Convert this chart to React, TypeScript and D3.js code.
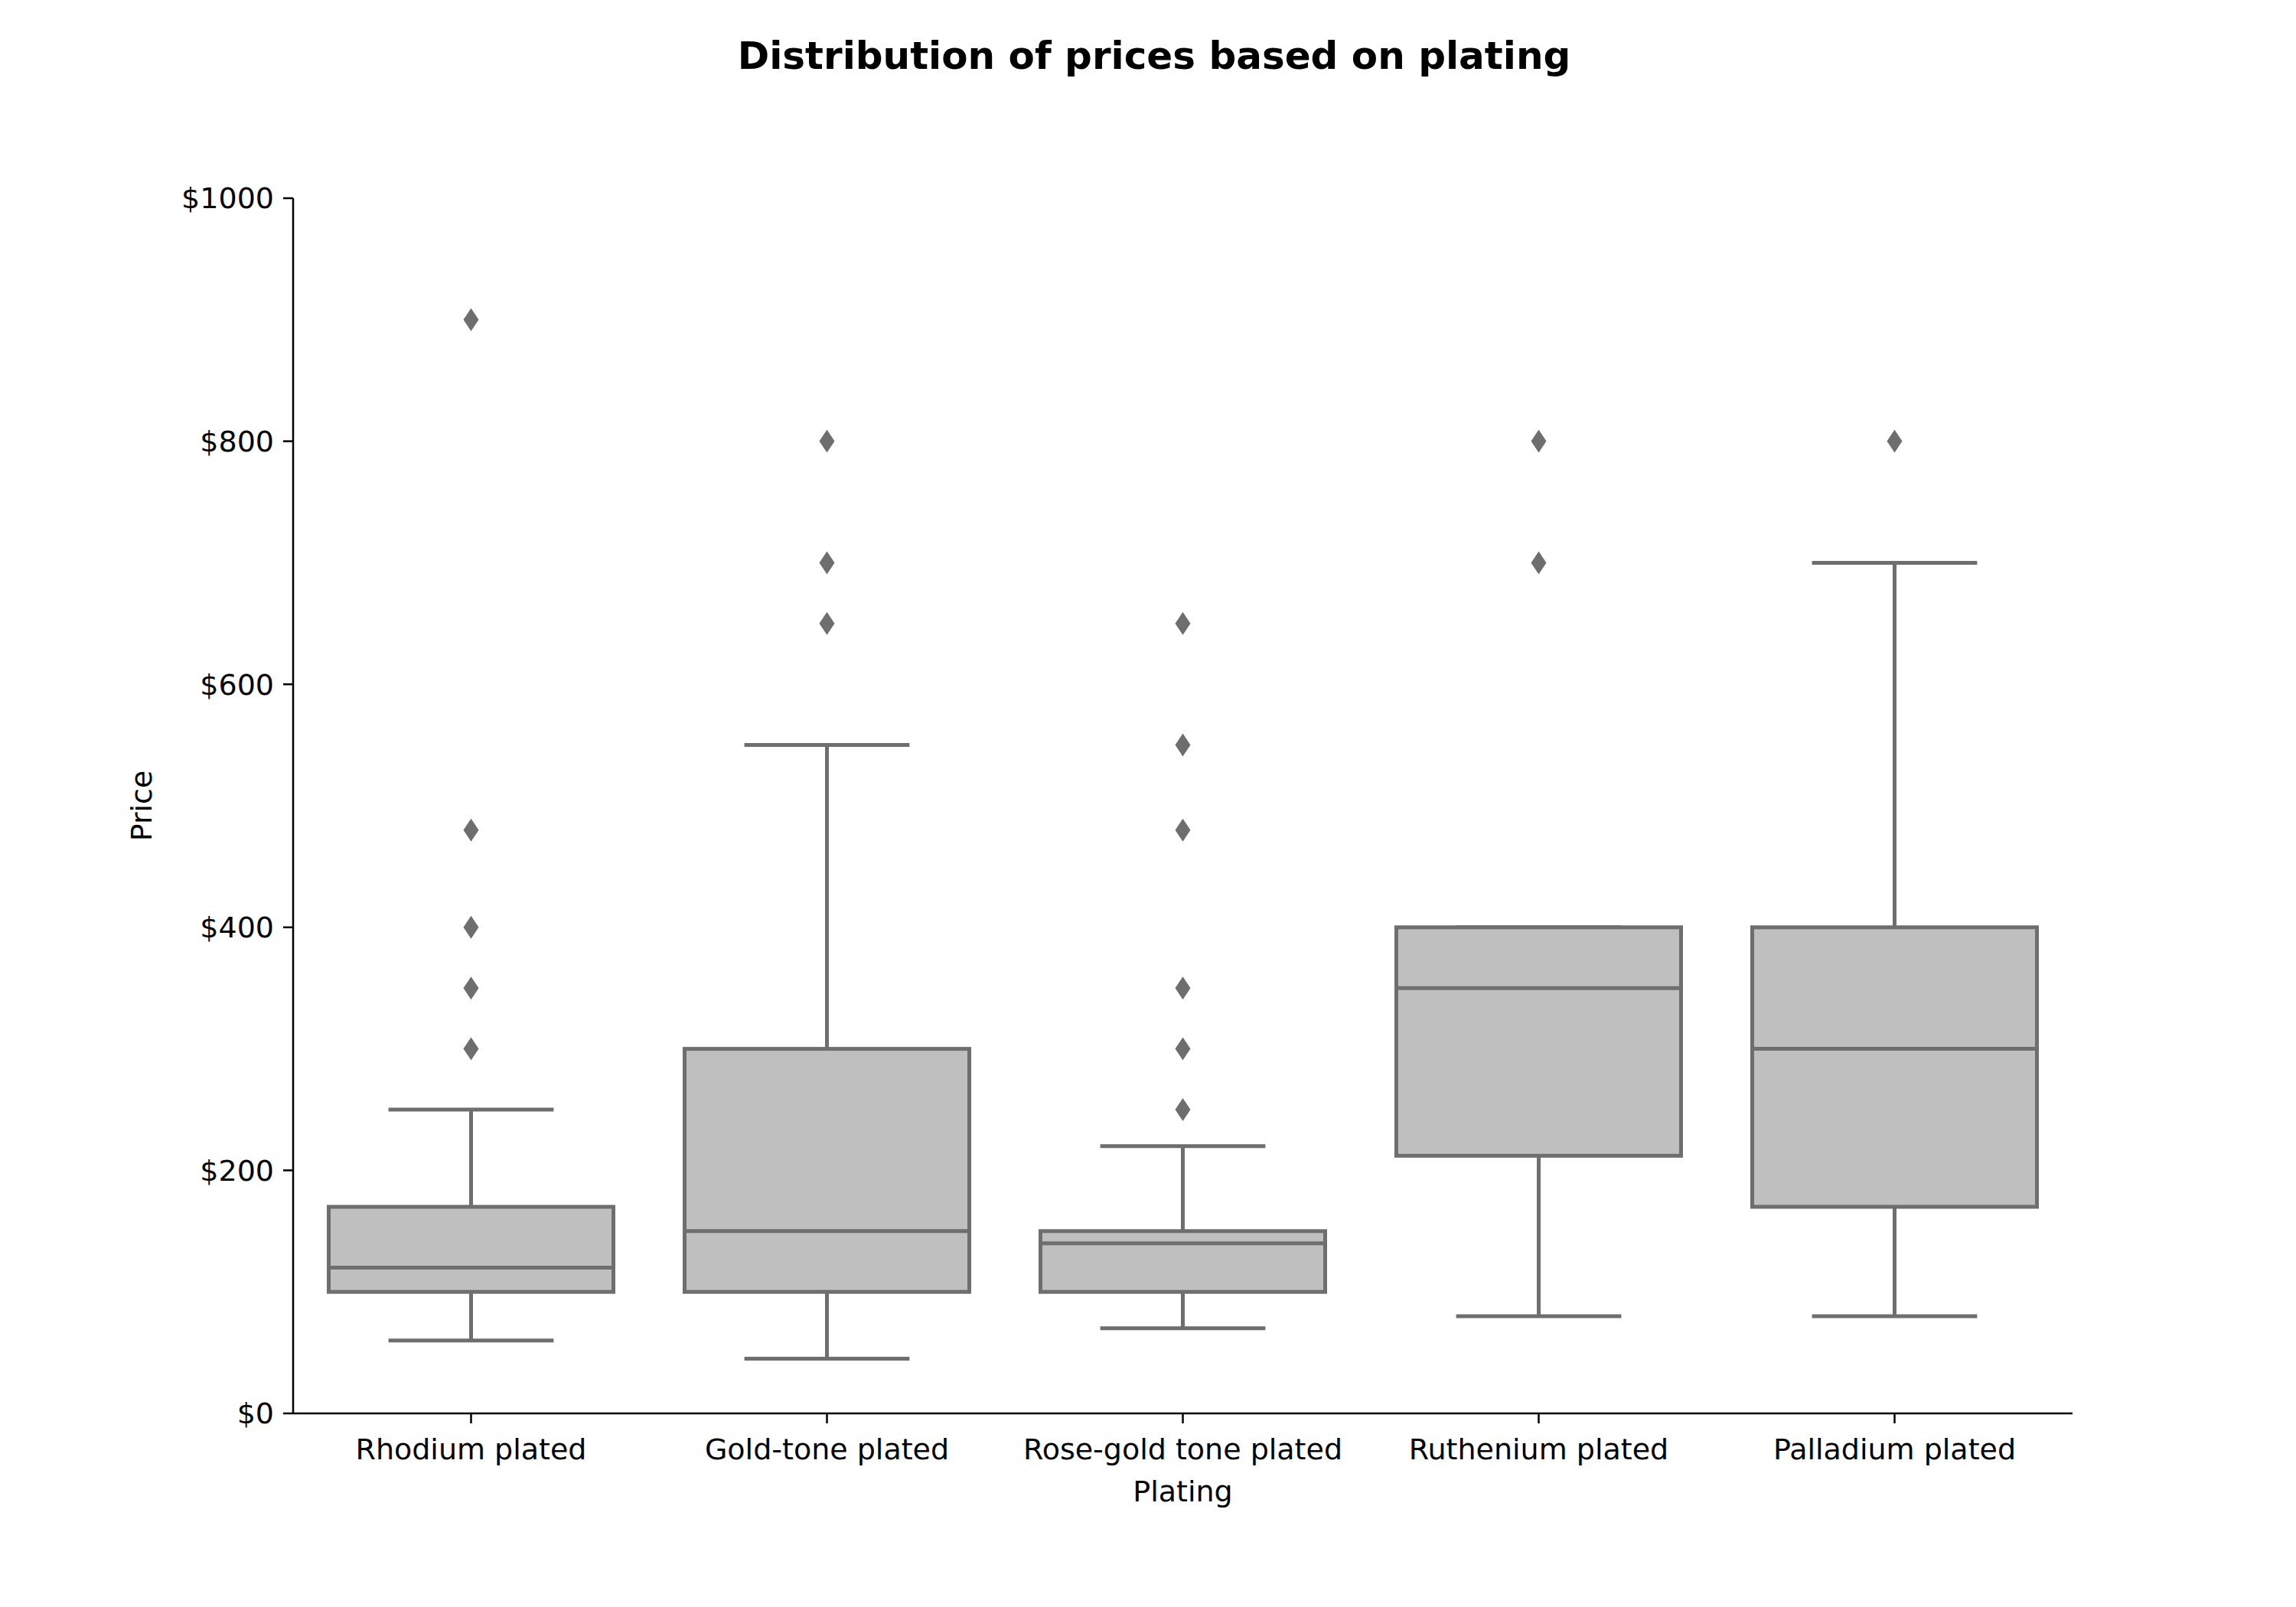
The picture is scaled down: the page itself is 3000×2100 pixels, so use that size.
import * as d3 from 'd3';

const categories = ['Rhodium plated', 'Gold-tone plated', 'Rose-gold tone plated', 'Ruthenium plated', 'Palladium plated'];
// [lower whisker, q1, median, q3, upper whisker]
const boxStats = [
  [60, 100, 120, 170, 250],
  [45, 100, 150, 300, 550],
  [70, 100, 140, 150, 220],
  [80, 212, 350, 400, 400],
  [80, 170, 300, 400, 700],
];
const outliers = [
  [300, 350, 400, 480, 900],
  [650, 700, 800],
  [250, 300, 350, 480, 550, 650],
  [700, 800],
  [800],
];
const yTicks = [0, 200, 400, 600, 800, 1000];

const W = 3000;
const H = 2100;
const margin = { left: 375, right: 300, top: 251, bottom: 261 };
const FILL = '#bfbfbf';
const STROKE = '#6e6e6e';
const FONT = 'DejaVu Sans, sans-serif';

export default function App() {
  const x = d3.scaleBand<string>().domain(categories).range([margin.left, W - margin.right]).padding(0);
  const y = d3.scaleLinear().domain([0, 1000]).range([H - margin.bottom, margin.top]);
  const bw = x.bandwidth() * 0.8;
  const capW = bw * 0.58;
  const diamond = (cx: number, cy: number) =>
    `M${cx},${cy - 15} L${cx + 10},${cy} L${cx},${cy + 15} L${cx - 10},${cy} Z`;

  return (
    <svg width={W} height={H} style={{ display: 'block', background: '#fff' }} fontFamily={FONT}>
      <text x={W / 2} y={82} textAnchor="middle" fontSize={50} fontWeight="bold">
        Distribution of prices based on plating
      </text>

      {categories.map((c, i) => {
        const cx = (x(c) as number) + x.bandwidth() / 2;
        const [lo, q1, med, q3, hi] = boxStats[i];
        return (
          <g key={c} stroke={STROKE} strokeWidth={5}>
            <line x1={cx} x2={cx} y1={y(lo)} y2={y(q1)} />
            <line x1={cx} x2={cx} y1={y(q3)} y2={y(hi)} />
            <line x1={cx - capW / 2} x2={cx + capW / 2} y1={y(lo)} y2={y(lo)} />
            <line x1={cx - capW / 2} x2={cx + capW / 2} y1={y(hi)} y2={y(hi)} />
            <rect x={cx - bw / 2} width={bw} y={y(q3)} height={y(q1) - y(q3)} fill={FILL} />
            <line x1={cx - bw / 2} x2={cx + bw / 2} y1={y(med)} y2={y(med)} />
            {outliers[i].map((v, k) => (
              <path key={k} d={diamond(cx, y(v))} fill={STROKE} stroke="none" />
            ))}
          </g>
        );
      })}

      {/* axes */}
      <g stroke="#000" strokeWidth={2.5}>
        <line x1={margin.left} x2={margin.left} y1={y(1000)} y2={y(0)} />
        <line x1={margin.left} x2={W - margin.right} y1={y(0)} y2={y(0)} />
        {yTicks.map((t) => (
          <line key={t} x1={margin.left - 13} x2={margin.left} y1={y(t)} y2={y(t)} />
        ))}
        {categories.map((c) => {
          const cx = (x(c) as number) + x.bandwidth() / 2;
          return <line key={c} x1={cx} x2={cx} y1={y(0)} y2={y(0) + 13} />;
        })}
      </g>
      {yTicks.map((t) => (
        <text key={t} x={margin.left - 25} y={y(t)} dy="0.35em" textAnchor="end" fontSize={38}>
          ${t}
        </text>
      ))}
      {categories.map((c) => (
        <text key={c} x={(x(c) as number) + x.bandwidth() / 2} y={y(0) + 60} textAnchor="middle" fontSize={38}>
          {c}
        </text>
      ))}
      <text x={(margin.left + W - margin.right) / 2} y={y(0) + 115} textAnchor="middle" fontSize={38}>
        Plating
      </text>
      <text transform={`translate(190,${(y(0) + y(1000)) / 2}) rotate(-90)`} textAnchor="middle" fontSize={38}>
        Price
      </text>
    </svg>
  );
}
